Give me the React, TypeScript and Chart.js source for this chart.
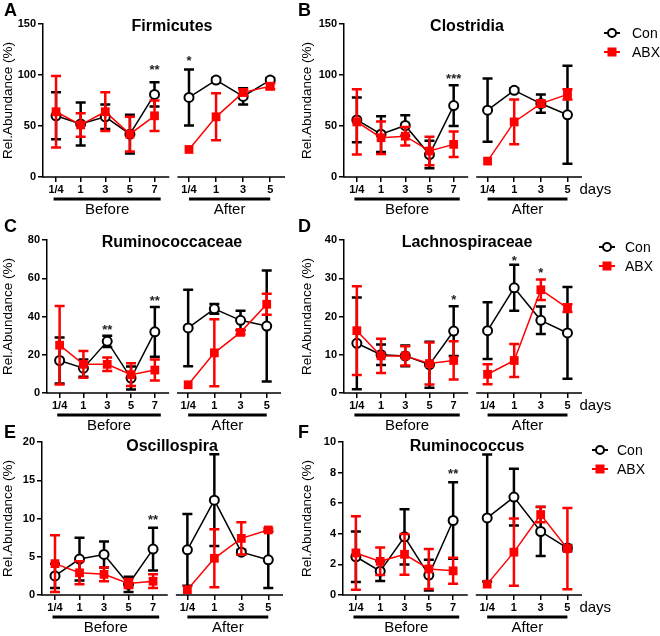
import React, { useEffect, useRef } from "react";
import { Chart, registerables } from "chart.js";

Chart.register(...registerables);

const FONT = "'Liberation Sans', Arial, Helvetica, sans-serif";

// ---------- categories / labels ----------
const DAYS_BEFORE = ["1/4", "1", "3", "5", "7"];
const DAYS_AFTER = ["1/4", "1", "3", "5"];
const SERIES_NAMES = ["Con", "ABX"];
const GROUP_NAMES = ["Before", "After"];
const Y_TITLE = "Rel.Abundance (%)";

// ---------- A: Firmicutes ----------
const FIRM_CON_BEFORE = [60, 52, 59, 42, 81];
const FIRM_CON_BEFORE_SD = [23, 21, 12, 19, 12];
const FIRM_ABX_BEFORE = [64, 51, 64, 42, 60];
const FIRM_ABX_BEFORE_SD = [35, 11.5, 19, 17, 15];
const FIRM_CON_AFTER = [78, 95, 79, 95];
const FIRM_CON_AFTER_SD = [27.5, 2, 8, 2];
const FIRM_ABX_AFTER = [27, 59, 83, 89];
const FIRM_ABX_AFTER_SD = [0, 23, 3, 3];
const FIRM_SIG = [
  { group: 0, idx: 4, y: 107, text: "**" },
  { group: 1, idx: 0, y: 116, text: "*" },
];

// ---------- B: Clostridia ----------
const CLOS_CON_BEFORE = [56, 42, 50.5, 22, 70];
const CLOS_CON_BEFORE_SD = [22, 17.5, 10, 13.5, 20];
const CLOS_ABX_BEFORE = [54, 38.5, 40, 25.5, 32];
const CLOS_ABX_BEFORE_SD = [32, 16, 9, 14, 12.5];
const CLOS_CON_AFTER = [65.5, 85, 72, 61];
const CLOS_CON_AFTER_SD = [31, 2, 9, 48];
const CLOS_ABX_AFTER = [15.6, 54, 72, 81];
const CLOS_ABX_AFTER_SD = [0, 22, 3, 5];
const CLOS_SIG = [{ group: 0, idx: 4, y: 99, text: "***" }];

// ---------- C: Ruminococcaceae ----------
const RUMC_CON_BEFORE = [17, 13, 27, 7.8, 32];
const RUMC_CON_BEFORE_SD = [12, 4.5, 3, 6, 13];
const RUMC_ABX_BEFORE = [25, 15, 15, 9.6, 12];
const RUMC_ABX_BEFORE_SD = [20.5, 7, 3.5, 6, 5.5];
const RUMC_CON_AFTER = [34, 44, 38, 35];
const RUMC_CON_AFTER_SD = [20, 2.5, 5, 29];
const RUMC_ABX_AFTER = [4.3, 21, 31.7, 46.4];
const RUMC_ABX_AFTER_SD = [0, 17.5, 1, 5.5];
const RUMC_SIG = [
  { group: 0, idx: 2, y: 34.4, text: "**" },
  { group: 0, idx: 4, y: 49.6, text: "**" },
];

// ---------- D: Lachnospiraceae ----------
const LACH_CON_BEFORE = [13, 10, 9.7, 7.4, 16.2];
const LACH_CON_BEFORE_SD = [12, 2.7, 2.7, 6, 6.5];
const LACH_ABX_BEFORE = [16.3, 9.7, 9.7, 7.7, 8.5];
const LACH_ABX_BEFORE_SD = [11.6, 4.5, 2.5, 5.5, 5];
const LACH_CON_AFTER = [16.3, 27.5, 19, 15.7];
const LACH_CON_AFTER_SD = [7.4, 6, 3.6, 12];
const LACH_ABX_AFTER = [4.9, 8.5, 27, 22.2];
const LACH_ABX_AFTER_SD = [2.6, 4.3, 2.7, 1];
const LACH_SIG = [
  { group: 0, idx: 4, y: 24.9, text: "*" },
  { group: 1, idx: 1, y: 35.2, text: "*" },
  { group: 1, idx: 2, y: 32, text: "*" },
];

// ---------- E: Oscillospira ----------
const OSC_CON_BEFORE = [2.5, 4.7, 5.3, 1.4, 6];
const OSC_CON_BEFORE_SD = [1.6, 2.8, 1.7, 1, 2.8];
const OSC_ABX_BEFORE = [4.1, 2.9, 2.7, 1.5, 1.8];
const OSC_ABX_BEFORE_SD = [3.7, 1.5, 0.9, 0.6, 0.9];
const OSC_CON_AFTER = [5.9, 12.4, 5.6, 4.6];
const OSC_CON_AFTER_SD = [4.7, 6, 0.3, 3.7];
const OSC_ABX_AFTER = [0.7, 4.8, 7.4, 8.5];
const OSC_ABX_AFTER_SD = [0, 3.8, 2.1, 0.2];
const OSC_SIG = [{ group: 0, idx: 4, y: 10.2, text: "**" }];

// ---------- F: Ruminococcus ----------
const RUM_CON_BEFORE = [2.5, 1.56, 3.8, 1.3, 4.87];
const RUM_CON_BEFORE_SD = [1.65, 0.65, 1.8, 1, 2.5];
const RUM_ABX_BEFORE = [2.75, 2.2, 2.66, 1.7, 1.58];
const RUM_ABX_BEFORE_SD = [2.4, 0.9, 1.33, 1.3, 0.85];
const RUM_CON_AFTER = [5.04, 6.4, 4.15, 3.07];
const RUM_CON_AFTER_SD = [4.15, 1.85, 1.6, 0.2];
const RUM_ABX_AFTER = [0.71, 2.8, 5.26, 3.03];
const RUM_ABX_AFTER_SD = [0, 2.2, 0.5, 2.65];
const RUM_SIG = [{ group: 0, idx: 4, y: 8.1, text: "**" }];

// ---------- x-scale layout (category slots on a broken axis) ----------
const BEFORE_POS = [0, 1, 2, 3, 4];
const AFTER_POS = [5.4, 6.5, 7.6, 8.7];
const X_MIN = -0.53;
const X_MAX = 9.3;
const BEFORE_AXIS_END = 4.6;
const AFTER_AXIS_START = 4.93;
const BEFORE_BAR = [-0.1, 4.25];
const AFTER_BAR = [5.4, 8.7];

const CON_COLOR = "#000000";
const ABX_COLOR = "#ff0000";

const PANEL_H = 218;

type Sig = { group: number; idx: number; y: number; text: string };
type Spec = {
  letter: string;
  title: string;
  yMax: number;
  yStep: number;
  conB: number[]; conBSd: number[];
  abxB: number[]; abxBSd: number[];
  conA: number[]; conASd: number[];
  abxA: number[]; abxASd: number[];
  sig: Sig[];
};
type Layout = {
  x: number; y: number; w: number;
  plotLeft: number; plotRight: number;
  titlePad: number; letterX: number; letterY: number;
  legend?: { mx: number; tx: number; y: number };
};

const SPECS: Spec[] = [
  { letter: "A", title: "Firmicutes", yMax: 150, yStep: 50,
    conB: FIRM_CON_BEFORE, conBSd: FIRM_CON_BEFORE_SD, abxB: FIRM_ABX_BEFORE, abxBSd: FIRM_ABX_BEFORE_SD,
    conA: FIRM_CON_AFTER, conASd: FIRM_CON_AFTER_SD, abxA: FIRM_ABX_AFTER, abxASd: FIRM_ABX_AFTER_SD, sig: FIRM_SIG },
  { letter: "B", title: "Clostridia", yMax: 150, yStep: 50,
    conB: CLOS_CON_BEFORE, conBSd: CLOS_CON_BEFORE_SD, abxB: CLOS_ABX_BEFORE, abxBSd: CLOS_ABX_BEFORE_SD,
    conA: CLOS_CON_AFTER, conASd: CLOS_CON_AFTER_SD, abxA: CLOS_ABX_AFTER, abxASd: CLOS_ABX_AFTER_SD, sig: CLOS_SIG },
  { letter: "C", title: "Ruminococcaceae", yMax: 80, yStep: 20,
    conB: RUMC_CON_BEFORE, conBSd: RUMC_CON_BEFORE_SD, abxB: RUMC_ABX_BEFORE, abxBSd: RUMC_ABX_BEFORE_SD,
    conA: RUMC_CON_AFTER, conASd: RUMC_CON_AFTER_SD, abxA: RUMC_ABX_AFTER, abxASd: RUMC_ABX_AFTER_SD, sig: RUMC_SIG },
  { letter: "D", title: "Lachnospiraceae", yMax: 40, yStep: 10,
    conB: LACH_CON_BEFORE, conBSd: LACH_CON_BEFORE_SD, abxB: LACH_ABX_BEFORE, abxBSd: LACH_ABX_BEFORE_SD,
    conA: LACH_CON_AFTER, conASd: LACH_CON_AFTER_SD, abxA: LACH_ABX_AFTER, abxASd: LACH_ABX_AFTER_SD, sig: LACH_SIG },
  { letter: "E", title: "Oscillospira", yMax: 20, yStep: 5,
    conB: OSC_CON_BEFORE, conBSd: OSC_CON_BEFORE_SD, abxB: OSC_ABX_BEFORE, abxBSd: OSC_ABX_BEFORE_SD,
    conA: OSC_CON_AFTER, conASd: OSC_CON_AFTER_SD, abxA: OSC_ABX_AFTER, abxASd: OSC_ABX_AFTER_SD, sig: OSC_SIG },
  { letter: "F", title: "Ruminococcus", yMax: 10, yStep: 2,
    conB: RUM_CON_BEFORE, conBSd: RUM_CON_BEFORE_SD, abxB: RUM_ABX_BEFORE, abxBSd: RUM_ABX_BEFORE_SD,
    conA: RUM_CON_AFTER, conASd: RUM_CON_AFTER_SD, abxA: RUM_ABX_AFTER, abxASd: RUM_ABX_AFTER_SD, sig: RUM_SIG },
];

const LAYOUTS: Layout[] = [
  { x: 0, y: 0, w: 300, plotLeft: 43, plotRight: 285, titlePad: 0, letterX: 4, letterY: 11 },
  { x: 295, y: 0, w: 365, plotLeft: 49, plotRight: 287, titlePad: 4.5, letterX: 3, letterY: 11, legend: { mx: 317, tx: 337, y: 33 } },
  { x: 0, y: 216, w: 300, plotLeft: 47, plotRight: 281, titlePad: 0, letterX: 4, letterY: 11 },
  { x: 295, y: 216, w: 365, plotLeft: 49, plotRight: 287, titlePad: 4.5, letterX: 3, letterY: 11, legend: { mx: 312, tx: 330, y: 31 } },
  { x: 0, y: 418, w: 300, plotLeft: 42, plotRight: 283, titlePad: 0, letterX: 4, letterY: 15 },
  { x: 295, y: 418, w: 365, plotLeft: 48, plotRight: 287, titlePad: 4.5, letterX: 3, letterY: 15, legend: { mx: 305, tx: 322, y: 32 } },
];

const X_TICKS = [...BEFORE_POS, ...AFTER_POS];
const X_LABELS = [...DAYS_BEFORE, ...DAYS_AFTER];

const errorBarPlugin = {
  id: "errorBars",
  beforeDatasetDraw(chart: any, args: any) {
    const ds = chart.data.datasets[args.index];
    const errs: number[] = ds.errors || [];
    const ys = chart.scales.y;
    const ctx = chart.ctx;
    ctx.save();
    ctx.strokeStyle = ds.borderColor;
    ctx.lineWidth = 2.5;
    args.meta.data.forEach((pt: any, i: number) => {
      const sd = errs[i];
      if (!sd) return;
      const v = ds.data[i].y;
      const yt = ys.getPixelForValue(v + sd);
      const yb = ys.getPixelForValue(Math.max(0, v - sd));
      const x = pt.x;
      ctx.beginPath();
      ctx.moveTo(x, yt);
      ctx.lineTo(x, yb);
      ctx.moveTo(x - 5, yt);
      ctx.lineTo(x + 5, yt);
      ctx.moveTo(x - 5, yb);
      ctx.lineTo(x + 5, yb);
      ctx.stroke();
    });
    ctx.restore();
  },
};

function makeDecor(spec: Spec, lay: Layout) {
  return {
    id: "decor" + spec.letter,
    afterDraw(chart: any) {
      const ctx = chart.ctx;
      const xs = chart.scales.x;
      const ys = chart.scales.y;
      const area = chart.chartArea;
      const px = (v: number) => xs.getPixelForValue(v);
      ctx.save();
      // broken x axis
      ctx.strokeStyle = "#000";
      ctx.lineWidth = 1.5;
      ctx.beginPath();
      ctx.moveTo(area.left - 0.75, area.bottom);
      ctx.lineTo(px(BEFORE_AXIS_END), area.bottom);
      ctx.moveTo(px(AFTER_AXIS_START), area.bottom);
      ctx.lineTo(area.right, area.bottom);
      ctx.stroke();
      // group bars
      ctx.lineWidth = 3;
      ctx.beginPath();
      ctx.moveTo(px(BEFORE_BAR[0]), area.bottom + 22);
      ctx.lineTo(px(BEFORE_BAR[1]), area.bottom + 22);
      ctx.moveTo(px(AFTER_BAR[0]), area.bottom + 22);
      ctx.lineTo(px(AFTER_BAR[1]), area.bottom + 22);
      ctx.stroke();
      ctx.fillStyle = "#000";
      ctx.font = `15px ${FONT}`;
      ctx.textAlign = "center";
      ctx.textBaseline = "middle";
      ctx.fillText(GROUP_NAMES[0], (px(BEFORE_BAR[0]) + px(BEFORE_BAR[1])) / 2, area.bottom + 33);
      ctx.fillText(GROUP_NAMES[1], (px(AFTER_BAR[0]) + px(AFTER_BAR[1])) / 2, area.bottom + 33);
      // days
      if (lay.legend) {
        ctx.textAlign = "left";
        ctx.fillText("days", px(AFTER_POS[3]) + 12, area.bottom + 13);
      }
      // panel letter
      ctx.font = `bold 18px ${FONT}`;
      ctx.textAlign = "left";
      ctx.fillText(spec.letter, lay.letterX, lay.letterY);
      // title
      ctx.font = `bold 16px ${FONT}`;
      ctx.textAlign = "center";
      ctx.fillText(spec.title, 172, area.top + 3 + (lay.letterY - 11) / 2);
      // significance marks
      ctx.font = `bold 13px ${FONT}`;
      ctx.fillStyle = "#222";
      spec.sig.forEach((s) => {
        const pos = s.group === 0 ? BEFORE_POS[s.idx] : AFTER_POS[s.idx];
        ctx.fillText(s.text, px(pos), ys.getPixelForValue(s.y) + 3);
      });
      // legend
      if (lay.legend) {
        const L = lay.legend;
        const rows = [
          { y: L.y, color: CON_COLOR, circle: true, name: SERIES_NAMES[0] },
          { y: L.y + 19, color: ABX_COLOR, circle: false, name: SERIES_NAMES[1] },
        ];
        rows.forEach((r) => {
          ctx.strokeStyle = r.color;
          ctx.lineWidth = 2;
          ctx.beginPath();
          ctx.moveTo(L.mx - 8, r.y);
          ctx.lineTo(L.mx + 8, r.y);
          ctx.stroke();
          if (r.circle) {
            ctx.fillStyle = "#fff";
            ctx.beginPath();
            ctx.arc(L.mx, r.y, 4, 0, Math.PI * 2);
            ctx.fill();
            ctx.stroke();
          } else {
            ctx.fillStyle = r.color;
            ctx.fillRect(L.mx - 4.5, r.y - 4.5, 9, 9);
          }
          ctx.fillStyle = "#000";
          ctx.font = `14px ${FONT}`;
          ctx.textAlign = "left";
          ctx.fillText(r.name, L.tx, r.y + 1);
        });
      }
      ctx.restore();
    },
  };
}

function series(label: string, vals: number[], sds: number[], pos: number[], isCon: boolean) {
  const color = isCon ? CON_COLOR : ABX_COLOR;
  return {
    label,
    data: vals.map((v, i) => ({ x: pos[i], y: v })),
    errors: sds,
    borderColor: color,
    borderWidth: 1.5,
    tension: 0,
    fill: false,
    pointStyle: isCon ? "circle" : "rect",
    pointRadius: isCon ? 4.5 : 6.2,
    pointBorderWidth: isCon ? 2 : 0,
    pointBackgroundColor: isCon ? "#ffffff" : color,
    pointBorderColor: color,
    order: isCon ? 2 : 1,
  };
}

function Panel({ spec, lay }: { spec: Spec; lay: Layout }) {
  const ref = useRef<HTMLCanvasElement | null>(null);
  useEffect(() => {
    if (!ref.current) return;
    const tickFont = { family: FONT, size: 11, weight: "bold" as const };
    const chart = new Chart(ref.current, {
      type: "line",
      data: {
        datasets: [
          series(SERIES_NAMES[0], spec.conB, spec.conBSd, BEFORE_POS, true),
          series(SERIES_NAMES[0], spec.conA, spec.conASd, AFTER_POS, true),
          series(SERIES_NAMES[1], spec.abxB, spec.abxBSd, BEFORE_POS, false),
          series(SERIES_NAMES[1], spec.abxA, spec.abxASd, AFTER_POS, false),
        ] as any,
      },
      options: {
        animation: false,
        responsive: false,
        devicePixelRatio: 1,
        layout: { padding: { top: 24, left: 0, right: lay.w - lay.plotRight, bottom: 0 } },
        plugins: { legend: { display: false }, tooltip: { enabled: false }, title: { display: false } },
        scales: {
          x: {
            type: "linear",
            min: X_MIN,
            max: X_MAX,
            afterBuildTicks: (s: any) => {
              s.ticks = X_TICKS.map((v) => ({ value: v }));
            },
            afterFit: (s: any) => {
              s.height = PANEL_H - 177;
            },
            ticks: {
              callback: (_v: any, i: number) => X_LABELS[i],
              autoSkip: false,
              maxRotation: 0,
              minRotation: 0,
              font: tickFont,
              color: "#000",
              padding: 1,
            },
            grid: { display: true, drawOnChartArea: false, drawTicks: true, tickLength: 5, color: "#000", lineWidth: 1.5 },
            border: { display: false },
          },
          y: {
            type: "linear",
            min: 0,
            max: spec.yMax,
            afterFit: (s: any) => {
              s.width = lay.plotLeft;
            },
            ticks: { stepSize: spec.yStep, font: tickFont, color: "#000", padding: 2 },
            title: {
              display: true,
              text: Y_TITLE,
              font: { family: FONT, size: 13.5 },
              color: "#000",
              padding: { top: lay.titlePad, bottom: 0 },
            },
            grid: { display: true, drawOnChartArea: false, drawTicks: true, tickLength: 5, color: "#000", lineWidth: 1.5 },
            border: { display: true, color: "#000", width: 1.5 },
          },
        },
      } as any,
      plugins: [errorBarPlugin, makeDecor(spec, lay)],
    });
    return () => chart.destroy();
  }, [spec, lay]);
  return (
    <canvas
      ref={ref}
      width={lay.w}
      height={PANEL_H}
      style={{ position: "absolute", left: lay.x, top: lay.y, width: lay.w, height: PANEL_H }}
    />
  );
}

export default function App() {
  return (
    <div style={{ position: "absolute", left: 0, top: 0, width: 660, height: 636, background: "#fff", overflow: "hidden" }}>
      {SPECS.map((s, i) => (
        <Panel key={s.letter} spec={s} lay={LAYOUTS[i]} />
      ))}
    </div>
  );
}
